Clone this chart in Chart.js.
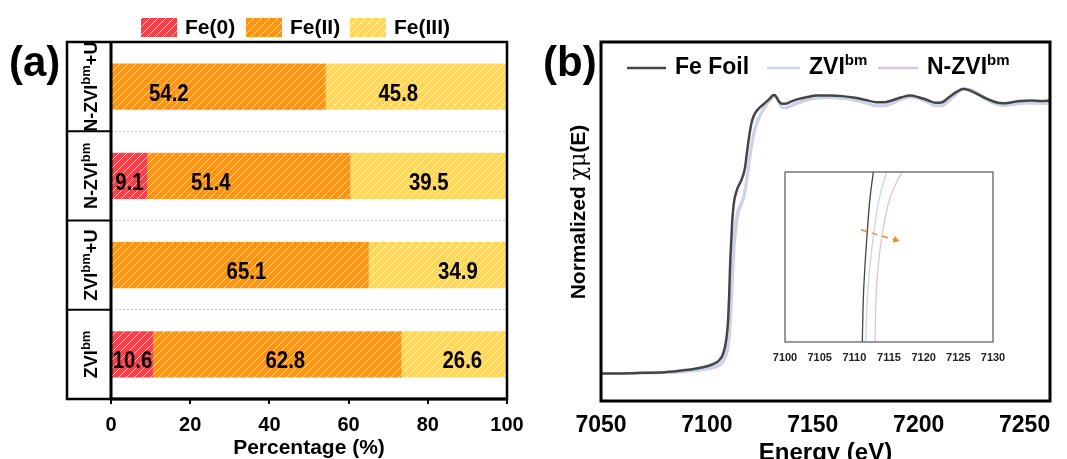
<!DOCTYPE html>
<html>
<head>
<meta charset="utf-8">
<script src="https://cdn.jsdelivr.net/npm/chart.js@4.4.1/dist/chart.umd.min.js"></script>
<style>
  body { margin: 0; background: #fff; }
  #wrap { position: relative; width: 1067px; height: 459px; background: #fff; overflow: hidden; }
  canvas { position: absolute; }
</style>
</head>
<body>
<div id="wrap">
  <canvas id="bar_chart" width="540" height="459" style="left:0;top:0"></canvas>
  <canvas id="xanes_chart" width="527" height="459" style="left:540px;top:0"></canvas>
  <canvas id="inset_chart" width="260" height="205" style="left:760px;top:160px"></canvas>
</div>
<script>
// ---- panel (a) data ----
const categories = ['N-ZVIbm+U', 'N-ZVIbm', 'ZVIbm+U', 'ZVIbm'];
const species = ['Fe(0)', 'Fe(II)', 'Fe(III)'];
const fe0 = [0, 9.1, 0, 10.6];
const fe2 = [54.2, 51.4, 65.1, 62.8];
const fe3 = [45.8, 39.5, 34.9, 26.6];
const pctTicks = [0, 20, 40, 60, 80, 100];

// ---- panel (b) data ----
const seriesNames = ['Fe Foil', 'ZVIbm', 'N-ZVIbm'];
const energy = [7050, 7060, 7070, 7080, 7090, 7095, 7100, 7103, 7105, 7107, 7108, 7109, 7110, 7110.5, 7111, 7111.5, 7112, 7112.5, 7113, 7114, 7115, 7116, 7117, 7118, 7119, 7120, 7121, 7122, 7123, 7124, 7126, 7128, 7130, 7131, 7132, 7133, 7134, 7135, 7136, 7138, 7140, 7143, 7147, 7152, 7158, 7164, 7170, 7175, 7180, 7184, 7188, 7192, 7196, 7200, 7204, 7208, 7211, 7214, 7218, 7221, 7224, 7228, 7232, 7236, 7240, 7244, 7248, 7253, 7258, 7262];
const muFoil = [0.000, 0.000, 0.002, 0.004, 0.012, 0.018, 0.026, 0.034, 0.042, 0.060, 0.080, 0.115, 0.190, 0.280, 0.400, 0.480, 0.555, 0.600, 0.630, 0.660, 0.680, 0.695, 0.715, 0.745, 0.805, 0.860, 0.905, 0.930, 0.945, 0.955, 0.970, 0.983, 0.998, 1.006, 1.008, 0.998, 0.985, 0.978, 0.976, 0.978, 0.985, 0.993, 1.000, 1.006, 1.006, 1.004, 0.998, 0.990, 0.982, 0.982, 0.990, 1.000, 1.006, 1.000, 0.990, 0.980, 0.982, 0.998, 1.020, 1.030, 1.025, 1.010, 0.995, 0.983, 0.978, 0.982, 0.986, 0.988, 0.986, 0.988];
const muZvi = [0.000, 0.000, 0.001, 0.003, 0.008, 0.012, 0.018, 0.024, 0.030, 0.042, 0.055, 0.075, 0.110, 0.150, 0.210, 0.300, 0.400, 0.470, 0.520, 0.570, 0.600, 0.615, 0.635, 0.670, 0.720, 0.775, 0.830, 0.870, 0.900, 0.920, 0.950, 0.975, 0.995, 1.003, 1.005, 0.995, 0.978, 0.966, 0.962, 0.965, 0.972, 0.982, 0.992, 0.998, 1.000, 0.997, 0.990, 0.980, 0.970, 0.972, 0.982, 0.995, 1.002, 0.995, 0.982, 0.970, 0.972, 0.990, 1.015, 1.030, 1.026, 1.010, 0.990, 0.975, 0.970, 0.974, 0.978, 0.980, 0.978, 0.980];
const muNzvi = [0.000, 0.000, 0.001, 0.002, 0.006, 0.010, 0.015, 0.020, 0.025, 0.035, 0.045, 0.062, 0.090, 0.120, 0.165, 0.230, 0.320, 0.400, 0.465, 0.540, 0.585, 0.605, 0.625, 0.655, 0.705, 0.760, 0.815, 0.858, 0.890, 0.912, 0.945, 0.970, 0.990, 0.998, 1.004, 0.998, 0.982, 0.968, 0.962, 0.962, 0.968, 0.978, 0.988, 0.996, 0.998, 0.995, 0.988, 0.978, 0.968, 0.968, 0.978, 0.992, 1.000, 0.995, 0.982, 0.968, 0.968, 0.985, 1.012, 1.032, 1.030, 1.015, 0.995, 0.978, 0.970, 0.972, 0.976, 0.978, 0.976, 0.978];
const energyTicks = [7050, 7100, 7150, 7200, 7250];

// inset (zoom of the edge)
const insetLevel = [0.300, 0.377, 0.436, 0.495, 0.554, 0.600];
const insetFoilE = [7111.15, 7111.30, 7111.54, 7111.87, 7112.26, 7112.74];
const insetZviE = [7111.64, 7111.87, 7112.26, 7112.84, 7113.61, 7114.66];
const insetNzviE = [7112.98, 7113.13, 7113.46, 7114.09, 7115.14, 7116.83];
const arrowE = [7110.96, 7115.96];
const arrowMu = [0.498, 0.480];
const insetTicks = [7100, 7105, 7110, 7115, 7120, 7125, 7130];

// ---- styles ----
const FONT = '"Liberation Sans", Arial, sans-serif';
const barColors = ['#f5424a', '#fb9418', '#ffd760'];
const lineColors = ['#454545', '#c6d6ec', '#dcc4de'];
const labelNudge = [[0, 0, 0, 0], [-50, -38, 6, 8], [-18, 0, 20, 8]];

Chart.defaults.font.family = FONT;
Chart.defaults.color = '#000';
Chart.defaults.animation = false;

function hatch(color) {
  const c = document.createElement('canvas');
  c.width = 8; c.height = 8;
  const g = c.getContext('2d');
  g.fillStyle = color;
  g.fillRect(0, 0, 8, 8);
  g.strokeStyle = 'rgba(255,255,255,0.8)';
  g.lineWidth = 1;
  g.beginPath();
  g.moveTo(0, 8); g.lineTo(8, 0);
  g.moveTo(-1, 1); g.lineTo(1, -1);
  g.moveTo(7, 9); g.lineTo(9, 7);
  g.stroke();
  return g.createPattern(c, 'repeat');
}
const patterns = barColors.map(hatch);

// text with "bm" raised as superscript
function richParts(text) {
  return text.split(/(bm)/).filter(s => s.length).map(s => ({ s, sup: s === 'bm' }));
}
function richWidth(ctx, text, size, supSize) {
  let w = 0;
  richParts(text).forEach(p => {
    ctx.font = 'bold ' + (p.sup ? supSize : size) + 'px ' + FONT;
    w += ctx.measureText(p.s).width;
  });
  return w;
}
function drawRich(ctx, text, x, y, size, supSize, rise) {
  ctx.textAlign = 'left';
  ctx.textBaseline = 'alphabetic';
  richParts(text).forEach(p => {
    ctx.font = 'bold ' + (p.sup ? supSize : size) + 'px ' + FONT;
    ctx.fillText(p.s, x, p.sup ? y - rise : y);
    x += ctx.measureText(p.s).width;
  });
}

// ---------- panel (a) ----------
const COL_W = 44;

const barLabels = {
  id: 'barLabels',
  afterDatasetsDraw(chart) {
    const ctx = chart.ctx;
    ctx.save();
    ctx.fillStyle = '#000';
    ctx.textAlign = 'center';
    ctx.textBaseline = 'alphabetic';
    ctx.font = 'bold 24px ' + FONT;
    chart.data.datasets.forEach((ds, i) => {
      chart.getDatasetMeta(i).data.forEach((bar, j) => {
        const v = ds.data[j];
        if (!v) return;
        ctx.save();
        ctx.translate((bar.x + bar.base) / 2 + labelNudge[i][j], bar.y + 14);
        ctx.scale(0.85, 1);
        ctx.fillText(v.toFixed(1), 0, 0);
        ctx.restore();
      });
    });
    ctx.restore();
  }
};

const panelA = {
  id: 'panelA',
  afterDraw(chart) {
    const { ctx, chartArea: a, scales } = chart;
    const left = a.left - COL_W;
    ctx.save();
    ctx.strokeStyle = '#000';
    // category column
    ctx.lineWidth = 2;
    for (let i = 1; i < categories.length; i++) {
      const y = (scales.y.getPixelForValue(i - 1) + scales.y.getPixelForValue(i)) / 2;
      ctx.beginPath(); ctx.moveTo(left, y); ctx.lineTo(a.left, y); ctx.stroke();
    }
    ctx.lineWidth = 2.5;
    ctx.strokeRect(left, a.top, a.right - left, a.bottom - a.top);
    ctx.lineWidth = 3;
    ctx.beginPath(); ctx.moveTo(a.left, a.top); ctx.lineTo(a.left, a.bottom); ctx.lineTo(a.right, a.bottom); ctx.stroke();

    ctx.fillStyle = '#000';
    categories.forEach((c, i) => {
      const cy = scales.y.getPixelForValue(i);
      const w = richWidth(ctx, c, 18, 13);
      ctx.save();
      ctx.translate(left + 21, cy);
      ctx.rotate(-Math.PI / 2);
      drawRich(ctx, c, -w / 2, 9, 18, 13, 7);
      ctx.restore();
    });

    // legend
    const boxX = [141, 246, 350];
    ctx.font = 'bold 21px ' + FONT;
    ctx.textBaseline = 'middle';
    ctx.textAlign = 'left';
    species.forEach((s, i) => {
      ctx.fillStyle = patterns[i];
      ctx.fillRect(boxX[i], 18, 36, 19);
      ctx.fillStyle = '#000';
      ctx.fillText(s, boxX[i] + 44, 28);
    });

    ctx.font = 'bold 42px ' + FONT;
    ctx.fillText('(a)', 9, 64);
    ctx.restore();
  }
};

new Chart(document.getElementById('bar_chart'), {
  type: 'bar',
  data: {
    labels: categories,
    datasets: [fe0, fe2, fe3].map((d, i) => ({
      label: species[i],
      data: d,
      backgroundColor: patterns[i],
      borderWidth: 0,
      barPercentage: 0.52,
      categoryPercentage: 1
    }))
  },
  options: {
    responsive: false,
    indexAxis: 'y',
    layout: { padding: { left: 67, top: 42, right: 33, bottom: 0 } },
    plugins: { legend: { display: false }, tooltip: { enabled: false } },
    scales: {
      x: {
        stacked: true, min: 0, max: 100,
        afterBuildTicks: s => { s.ticks = pctTicks.map(v => ({ value: v })); },
        afterFit: s => { s.height = 60; },
        ticks: { font: { size: 20, weight: 'bold' }, padding: 9, color: '#000' },
        grid: { drawOnChartArea: false, drawTicks: true, tickLength: 5, color: '#000', lineWidth: 2 },
        border: { display: false },
        title: { display: true, text: 'Percentage (%)', font: { size: 21, weight: 'bold', lineHeight: 1 }, padding: { top: 0, bottom: 0 } }
      },
      y: {
        stacked: true, offset: true,
        afterFit: s => { s.width = COL_W; },
        ticks: { display: false },
        grid: { offset: true, color: '#c4c4c4', lineWidth: 1, drawTicks: false },
        border: { display: false, dash: [2, 2] }
      }
    }
  },
  plugins: [barLabels, panelA]
});

// ---------- panel (b) ----------
const panelB = {
  id: 'panelB',
  afterDraw(chart) {
    const { ctx, chartArea: a } = chart;
    ctx.save();
    ctx.strokeStyle = '#000';
    ctx.lineWidth = 3;
    ctx.strokeRect(a.left, a.top, a.right - a.left, a.bottom - a.top);

    // legend
    const lineX = [[87, 126], [227, 260], [338, 378]];
    seriesNames.forEach((n, i) => {
      ctx.strokeStyle = lineColors[i];
      ctx.lineWidth = 2.5;
      ctx.beginPath(); ctx.moveTo(lineX[i][0], 68); ctx.lineTo(lineX[i][1], 68); ctx.stroke();
      ctx.fillStyle = '#000';
      drawRich(ctx, n, lineX[i][1] + 9, 74, 23, 15, 9);
    });

    // y title
    ctx.save();
    ctx.translate(38, 212);
    ctx.rotate(-Math.PI / 2);
    const parts = [['Normalized ', 'bold 21px ' + FONT], ['\u03c7\u03bc', '22px "DejaVu Serif", serif'], ['(E)', 'bold 21px ' + FONT]];
    let w = 0;
    parts.forEach(p => { ctx.font = p[1]; w += ctx.measureText(p[0]).width; });
    let x = -w / 2;
    ctx.textBaseline = 'alphabetic';
    ctx.textAlign = 'left';
    parts.forEach(p => { ctx.font = p[1]; ctx.fillText(p[0], x, 7); x += ctx.measureText(p[0]).width; });
    ctx.restore();

    ctx.font = 'bold 42px ' + FONT;
    ctx.textBaseline = 'middle';
    ctx.textAlign = 'left';
    ctx.fillText('(b)', 3, 64);
    ctx.restore();
  }
};

new Chart(document.getElementById('xanes_chart'), {
  type: 'line',
  data: {
    datasets: [muFoil, muZvi, muNzvi].map((mu, i) => ({
      label: seriesNames[i],
      data: energy.map((e, k) => ({ x: e, y: mu[k] })),
      borderColor: lineColors[i],
      borderWidth: 2.5,
      pointRadius: 0,
      cubicInterpolationMode: 'monotone'
    }))
  },
  options: {
    responsive: false,
    layout: { padding: { left: 0, top: 42, right: 17, bottom: 0 } },
    plugins: { legend: { display: false }, tooltip: { enabled: false } },
    scales: {
      x: {
        type: 'linear', min: 7050, max: 7262,
        afterBuildTicks: s => { s.ticks = energyTicks.map(v => ({ value: v })); },
        afterFit: s => { s.height = 58; },
        ticks: { font: { size: 23, weight: 'bold' }, padding: 3, color: '#000', callback: v => v },
        grid: { display: false },
        border: { display: false },
        title: { display: true, text: 'Energy (eV)', font: { size: 24, weight: 'bold', lineHeight: 1 }, padding: { top: 0, bottom: -6 } }
      },
      y: {
        min: -0.1, max: 1.2,
        afterFit: s => { s.width = 61; },
        ticks: { display: false },
        grid: { display: false },
        border: { display: false }
      }
    }
  },
  plugins: [panelB]
});

// ---------- inset ----------
const insetFrame = {
  id: 'insetFrame',
  beforeDraw(chart) {
    const { ctx, chartArea: a } = chart;
    ctx.save();
    ctx.fillStyle = '#fff';
    ctx.fillRect(a.left, a.top, a.right - a.left, a.bottom - a.top);
    ctx.restore();
  },
  afterDraw(chart) {
    const { ctx, chartArea: a } = chart;
    ctx.save();
    ctx.strokeStyle = '#555';
    ctx.lineWidth = 1.2;
    ctx.strokeRect(a.left, a.top, a.right - a.left, a.bottom - a.top);
    ctx.restore();
  }
};

const insetSets = [insetFoilE, insetZviE, insetNzviE].map((es, i) => ({
  data: es.map((e, k) => ({ x: e, y: insetLevel[k] })),
  borderColor: lineColors[i],
  borderWidth: 1.3,
  pointRadius: 0,
  tension: 0.4
}));
insetSets.unshift({
  data: arrowE.map((e, k) => ({ x: e, y: arrowMu[k] })),
  borderColor: '#f08a2c',
  backgroundColor: '#f08a2c',
  borderWidth: 1.5,
  borderDash: [6, 5],
  pointStyle: 'triangle',
  pointRadius: [0, 4],
  pointRotation: 106,
  pointBorderWidth: 0
});

new Chart(document.getElementById('inset_chart'), {
  type: 'line',
  data: { datasets: insetSets },
  options: {
    responsive: false,
    layout: { padding: { left: 25, top: 12, right: 27, bottom: 0 } },
    plugins: { legend: { display: false }, tooltip: { enabled: false } },
    scales: {
      x: {
        type: 'linear', min: 7100, max: 7130,
        afterBuildTicks: s => { s.ticks = insetTicks.map(v => ({ value: v })); },
        afterFit: s => { s.height = 23; },
        ticks: { font: { size: 11, weight: 'bold' }, padding: 1, color: '#222', callback: v => v },
        grid: { display: false },
        border: { display: false }
      },
      y: { display: false, min: 0.3, max: 0.6 }
    }
  },
  plugins: [insetFrame]
});
</script>
</body>
</html>
